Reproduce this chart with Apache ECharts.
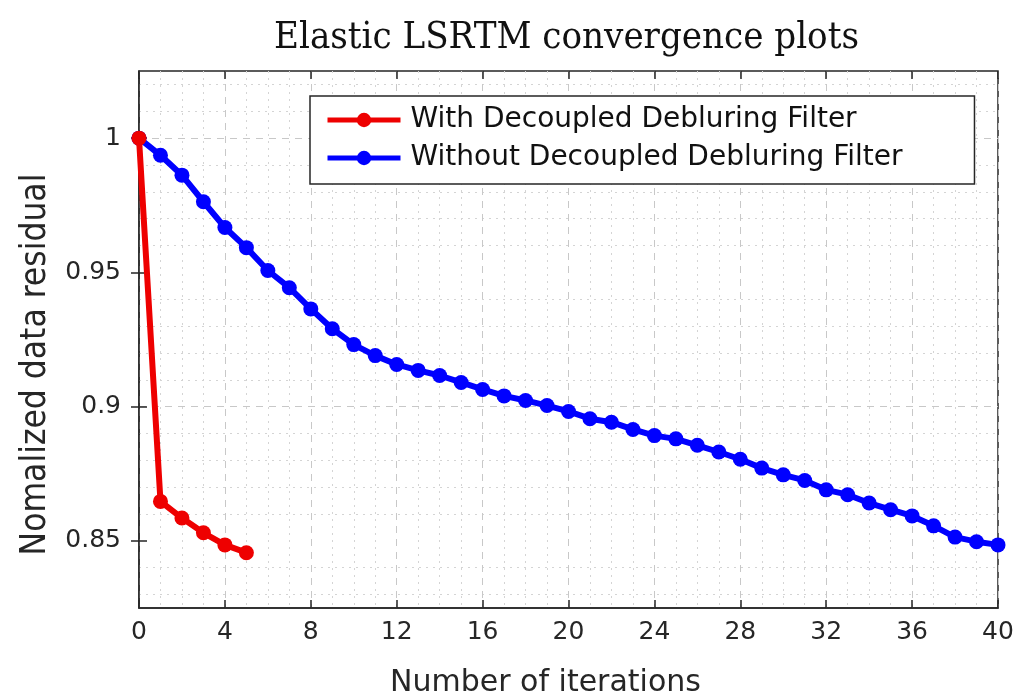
<!DOCTYPE html>
<html>
<head>
<meta charset="utf-8">
<title>Elastic LSRTM convergence plots</title>
<script src="https://cdn.jsdelivr.net/npm/echarts@6/dist/echarts.min.js"></script>
<style>
  html, body { margin: 0; padding: 0; background: #fff; }
  #chart { width: 1021px; height: 698px; }
</style>
</head>
<body>
<div id="chart"></div>
<script>
// Iteration numbers and normalized data residuals for both runs
const iterations = Array.from({ length: 41 }, (_, i) => i);
const withFilter = [1.0, 0.8647, 0.8585, 0.853, 0.8485, 0.8456];
const withoutFilter = [
  1.0, 0.9936, 0.9862, 0.9763, 0.9667, 0.9592, 0.9507, 0.9443, 0.9364, 0.929,
  0.9231, 0.919, 0.9157, 0.9135, 0.9116, 0.909, 0.9064, 0.904, 0.9023, 0.9004,
  0.8982, 0.8955, 0.8942, 0.8915, 0.8892, 0.888, 0.8856, 0.8831, 0.8804, 0.8771,
  0.8746, 0.8725, 0.869, 0.8672, 0.8641, 0.8616, 0.8593, 0.8556, 0.8514, 0.8497,
  0.8485
];
const seriesNames = ['With Decoupled Debluring Filter', 'Without Decoupled Debluring Filter'];
const yTickValues = [0.85, 0.9, 0.95, 1];
const xTickLabels = ['0', '4', '8', '12', '16', '20', '24', '28', '32', '36', '40'];

const axisColor = '#262626';
const majorGrid = '#c8c8c8';
const minorGrid = '#d4d4d4';
const clear = 'rgba(0,0,0,0)';

const pairs = (ys) => ys.map((v, i) => [iterations[i], v]);

// minor lines every 0.01 on a 0.005 step, skipping the 0.05 majors
const minorCycle = [clear, minorGrid, clear, minorGrid, clear, clear, clear, minorGrid, clear, minorGrid];

const chart = echarts.init(document.getElementById('chart'));
chart.setOption({
  animation: false,
  backgroundColor: '#fff',
  title: {
    text: 'Elastic LSRTM convergence plots',
    left: 274,
    top: 19,
    padding: 0,
    textStyle: {
      fontFamily: '"DejaVu Serif Condensed", "DejaVu Serif", serif',
      fontWeight: 'normal',
      fontSize: 38,
      color: '#111'
    }
  },
  legend: {
    orient: 'vertical',
    left: 310,
    top: 96,
    backgroundColor: '#fff',
    borderColor: axisColor,
    borderWidth: 1.5,
    borderRadius: 0,
    padding: [10, 72, 12, 15],
    itemWidth: 73,
    itemHeight: 18,
    itemGap: 10,
    lineStyle: { width: 5 },
    textStyle: {
      fontFamily: '"DejaVu Sans", sans-serif',
      fontSize: 28,
      lineHeight: 28,
      color: '#111',
      padding: [0, 0, 0, 5]
    },
    data: seriesNames
  },
  grid: {
    left: 139,
    right: 23,
    top: 71,
    bottom: 90,
    outerBoundsMode: 'none',
    show: true,
    borderColor: axisColor,
    borderWidth: 1.5,
    backgroundColor: '#fff'
  },
  xAxis: [
    {
      type: 'value',
      min: 0,
      max: 40,
      interval: 4,
      name: 'Number of iterations',
      nameLocation: 'middle',
      nameGap: 60,
      nameTextStyle: {
        fontFamily: '"DejaVu Sans", sans-serif',
        fontSize: 30,
        color: '#262626',
        padding: [0, 46, 0, 0]
      },
      axisLine: { show: true, lineStyle: { color: axisColor, width: 1.5 } },
      axisTick: { show: true, inside: true, length: 8, lineStyle: { color: axisColor, width: 1.5 } },
      axisLabel: {
        margin: 12,
        fontFamily: '"DejaVu Sans", sans-serif',
        fontSize: 25,
        color: '#262626',
        formatter: (v) => xTickLabels[Math.round(v / 4)]
      },
      splitLine: { show: true, lineStyle: { color: majorGrid, type: [7, 6], width: 1 } },
      minorTick: { show: false, splitNumber: 4 },
      minorSplitLine: { show: true, lineStyle: { color: minorGrid, type: [2, 5], width: 1 } }
    },
    {
      type: 'value',
      position: 'top',
      min: 0,
      max: 40,
      interval: 4,
      axisLine: { show: false },
      axisTick: { show: true, inside: true, length: 8, lineStyle: { color: axisColor, width: 1.5 } },
      axisLabel: { show: false },
      splitLine: { show: false }
    }
  ],
  yAxis: [
    {
      type: 'value',
      min: 0.825,
      max: 1.025,
      interval: 0.025,
      name: 'Nomalized data residual',
      nameLocation: 'middle',
      nameGap: 86,
      nameTextStyle: {
        fontFamily: '"DejaVu Sans Condensed", "DejaVu Sans", sans-serif',
        fontSize: 35,
        color: '#262626',
        padding: [0, 50, 0, 0]
      },
      axisLine: { show: true, lineStyle: { color: axisColor, width: 1.5 } },
      axisTick: {
        show: true, inside: true, length: 8,
        customValues: yTickValues,
        lineStyle: { color: axisColor, width: 1.5 }
      },
      axisLabel: {
        margin: 18,
        fontFamily: '"DejaVu Sans", sans-serif',
        fontSize: 25,
        color: '#262626',
        customValues: yTickValues,
        formatter: (v) => {
          const hit = yTickValues.find((t) => Math.abs(t - v) < 1e-6);
          return hit === undefined ? '' : String(hit);
        }
      },
      splitLine: { show: false }
    },
    {
      // right edge ticks plus the dashed 0.05 grid lines
      type: 'value',
      position: 'right',
      min: 0.825,
      max: 1.025,
      interval: 0.025,
      axisLine: { show: false },
      axisTick: {
        show: true, inside: true, length: 8,
        customValues: yTickValues,
        lineStyle: { color: axisColor, width: 1.5 }
      },
      axisLabel: { show: false },
      splitLine: {
        show: true,
        showMinLine: true,
        showMaxLine: true,
        lineStyle: { color: [clear, majorGrid], type: [7, 6], width: 1 }
      }
    },
    {
      // dotted 0.01 grid lines
      type: 'value',
      position: 'right',
      min: 0.825,
      max: 1.025,
      interval: 0.005,
      axisLine: { show: false },
      axisTick: { show: false },
      axisLabel: { show: false },
      splitLine: {
        show: true,
        showMinLine: true,
        showMaxLine: true,
        lineStyle: { color: minorCycle, type: [2, 5], width: 1 }
      }
    }
  ],
  series: [
    {
      name: seriesNames[0],
      type: 'line',
      data: pairs(withFilter),
      symbol: 'circle',
      symbolSize: 15,
      lineStyle: { color: '#ee0000', width: 6 },
      itemStyle: { color: '#ee0000' },
      emphasis: { disabled: true },
      z: 4
    },
    {
      name: seriesNames[1],
      type: 'line',
      data: pairs(withoutFilter),
      symbol: 'circle',
      symbolSize: 15,
      lineStyle: { color: '#0000ff', width: 6 },
      itemStyle: { color: '#0000ff' },
      emphasis: { disabled: true },
      z: 3
    }
  ]
});
</script>
</body>
</html>
